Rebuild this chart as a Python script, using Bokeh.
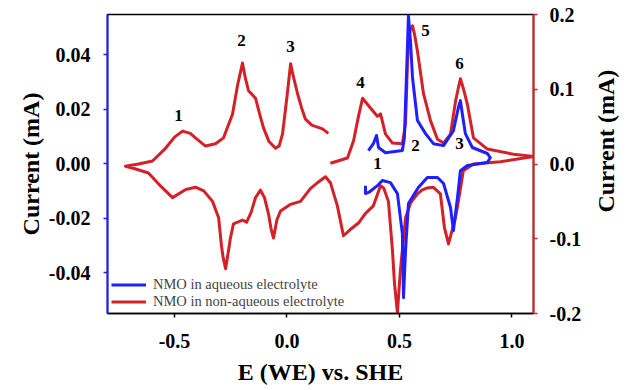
import math
from bokeh.plotting import figure
from bokeh.layouts import row
from bokeh.models import Range1d, LinearAxis, FixedTicker, NumeralTickFormatter, Legend, LegendItem, Label
from bokeh.embed import file_html
from bokeh.resources import INLINE

# Non-aqueous electrolyte (red, right axis, mA)
red_e = [0.193, 0.269, 0.296, 0.318, 0.336, 0.352, 0.371, 0.402, 0.416, 0.438, 0.469, 0.513, 0.527, 0.536,
         0.546, 0.558, 0.568, 0.580, 0.607, 0.638, 0.669, 0.696, 0.727, 0.750, 0.762, 0.771, 0.785, 0.802,
         0.829, 0.891, 1.007, 1.100,
         0.949, 0.829, 0.784, 0.762, 0.749, 0.718, 0.700, 0.682, 0.650, 0.624, 0.600, 0.580, 0.550, 0.527,
         0.504, 0.491, 0.478, 0.469, 0.451, 0.430, 0.416, 0.384, 0.349, 0.318, 0.280, 0.251, 0.224, 0.193,
         0.171, 0.140, 0.104, 0.060, 0.016, -0.029, -0.045, -0.060, -0.072, -0.082, -0.100, -0.118, -0.140,
         -0.160, -0.180, -0.198, -0.238, -0.252, -0.260, -0.273, -0.284, -0.291, -0.304, -0.331, -0.370,
         -0.407, -0.450, -0.509, -0.560, -0.616, -0.680, -0.718,
         -0.660, -0.598, -0.540, -0.500, -0.464, -0.430, -0.407, -0.362, -0.318, -0.282, -0.242, -0.220,
         -0.198, -0.185, -0.171, -0.155, -0.140, -0.120, -0.104, -0.080, -0.051, -0.035, -0.020, 0.000,
         0.016, 0.030, 0.047, 0.065, 0.082, 0.110, 0.158, 0.184]
red_i = [0.001, 0.008, 0.031, 0.064, 0.088, 0.082, 0.075, 0.064, 0.067, 0.040, 0.028, 0.027, 0.054, 0.138,
         0.178, 0.185, 0.172, 0.151, 0.094, 0.058, 0.033, 0.028, 0.040, 0.085, 0.102, 0.114, 0.100, 0.080,
         0.035, 0.020, 0.013, 0.010,
         0.003, 0.000, -0.009, -0.050, -0.072, -0.107, -0.085, -0.040, -0.031, -0.032, -0.035, -0.040, -0.052, -0.072,
         -0.143, -0.199, -0.160, -0.116, -0.050, -0.032, -0.029, -0.056, -0.066, -0.079, -0.088, -0.096, -0.056, -0.025,
         -0.017, -0.024, -0.033, -0.050, -0.054, -0.063, -0.075, -0.099, -0.085, -0.067, -0.045, -0.035, -0.045,
         -0.065, -0.078, -0.075, -0.080, -0.100, -0.116, -0.140, -0.125, -0.110, -0.072, -0.050, -0.036,
         -0.031, -0.034, -0.045, -0.030, -0.012, -0.006, -0.003,
         0.000, 0.004, 0.021, 0.036, 0.044, 0.041, 0.035, 0.024, 0.027, 0.035, 0.067, 0.105,
         0.135, 0.115, 0.098, 0.093, 0.088, 0.065, 0.048, 0.030, 0.021, 0.024, 0.040, 0.090,
         0.134, 0.115, 0.094, 0.075, 0.060, 0.052, 0.047, 0.041]

# Aqueous electrolyte (blue, left axis, mA)
blue_e = [0.362, 0.384, 0.398, 0.407, 0.438, 0.513, 0.522, 0.536, 0.540, 0.549, 0.558, 0.580, 0.616, 0.651,
          0.696, 0.740, 0.762, 0.771, 0.780, 0.793, 0.824, 0.891, 0.904,
          0.891, 0.802, 0.771, 0.758, 0.740, 0.727, 0.696, 0.669, 0.624, 0.584, 0.540, 0.527, 0.518, 0.513,
          0.491, 0.460, 0.424, 0.402, 0.380, 0.365, 0.349, 0.349]
blue_i = [0.0048, 0.0073, 0.0103, 0.0059, 0.0040, 0.0048, 0.0095, 0.0440, 0.0543, 0.0450, 0.0316, 0.0158,
          0.0110, 0.0073, 0.0066, 0.0121, 0.0206, 0.0231, 0.0180, 0.0110, 0.0059, 0.0037, 0.0022,
          0.0004, -0.0007, -0.0026, -0.0125, -0.0246, -0.0161, -0.0073, -0.0051, -0.0051, -0.0088, -0.0147,
          -0.0319, -0.0492, -0.0257, -0.0110, -0.0070, -0.0062, -0.0081, -0.0095, -0.0105, -0.0110, -0.0081]

# Peak labels (positions in left-axis units)
peak_text = ["1", "2", "3", "4", "5", "6", "1", "2", "3"]
peak_e = [-0.482, -0.202, 0.016, 0.327, 0.616, 0.767, 0.402, 0.571, 0.767]
peak_i = [0.0176, 0.0451, 0.0429, 0.0297, 0.0488, 0.0367, 0.0000, 0.0066, 0.0073]

x_ticks = [-0.5, 0.0, 0.5, 1.0]
left_ticks = [-0.04, -0.02, 0.0, 0.02, 0.04]
right_ticks = [-0.2, -0.1, 0.0, 0.1, 0.2]
y_title = "Current (mA)"

RED = "#d42027"
BLUE = "#1f1fff"
FONT = "Liberation Serif"

p = figure(frame_width=426, frame_height=299, output_backend="svg", toolbar_location=None,
           x_range=Range1d(-0.798, 1.096), y_range=Range1d(-0.0550, 0.0547),
           min_border_left=107, min_border_right=57, min_border_top=14, min_border_bottom=70)
p.extra_y_ranges = {"red": Range1d(-0.2, 0.2)}
p.xgrid.visible = False
p.ygrid.visible = False
p.outline_line_color = "black"
p.outline_line_width = 1.5

rl = p.line(red_e, red_i, y_range_name="red", line_color=RED, line_width=3, line_join="round")
bl = p.line(blue_e, blue_i, line_color=BLUE, line_width=3, line_join="round")

def style(ax, color, ticks, fmt, label):
    ax.ticker = FixedTicker(ticks=ticks)
    ax.formatter = NumeralTickFormatter(format=fmt)
    ax.axis_line_color = color
    ax.axis_line_width = 2
    ax.major_tick_line_color = color
    ax.major_tick_line_width = 1.5
    ax.major_tick_in = 0
    ax.major_tick_out = 4
    ax.minor_tick_line_color = None
    ax.major_label_text_font = FONT
    ax.major_label_text_font_style = "bold"
    ax.major_label_text_font_size = "20px"
    ax.major_label_text_color = "black"
    if label:
        ax.axis_label = label
        ax.axis_label_text_font = FONT
        ax.axis_label_text_font_style = "bold"
        ax.axis_label_text_font_size = "24px"
        ax.axis_label_text_color = "black"

style(p.xaxis[0], "black", x_ticks, "0.0", "E (WE) vs. SHE")
p.xaxis[0].axis_line_width = 1.5
p.xaxis[0].major_label_standoff = 16
p.xaxis[0].axis_label_standoff = 8
style(p.yaxis[0], BLUE, left_ticks, "0.00", y_title)
p.yaxis[0].major_label_standoff = 13
p.yaxis[0].axis_label_standoff = 2

ra = LinearAxis(y_range_name="red")
style(ra, RED, right_ticks, "0.0", None)
ra.major_label_standoff = 12
p.add_layout(ra, "right")

for t, xe, yi in zip(peak_text, peak_e, peak_i):
    p.add_layout(Label(x=xe, y=yi, text=t, text_font=FONT, text_font_style="bold",
                       text_font_size="17px", text_align="center", text_baseline="middle",
                       text_color="black"))

legend = Legend(items=[LegendItem(label="NMO in aqueous electrolyte", renderers=[bl]),
                       LegendItem(label="NMO in non-aqueous electrolyte", renderers=[rl])],
                location=(4, 3), margin=0, padding=4, spacing=0,
                glyph_width=35, glyph_height=15, label_height=15, label_standoff=7,
                label_text_font=FONT, label_text_font_size="14.5px",
                border_line_color=None, background_fill_alpha=0)
p.add_layout(legend, "center")

# narrow companion figure holding the right-hand axis title (reads bottom to top)
pt = figure(width=30, height=390, output_backend="svg", toolbar_location=None,
            x_range=Range1d(0, 1), y_range=Range1d(390, 0),
            x_axis_type=None, y_axis_type=None,
            min_border_left=0, min_border_right=0, min_border_top=0, min_border_bottom=0)
pt.outline_line_color = None
pt.add_layout(Label(x=0.5, y=14 + 299 / 2, text=y_title, angle=math.pi / 2,
                    text_font=FONT, text_font_style="bold", text_font_size="24px",
                    text_align="center", text_baseline="middle", text_color="black"))

layout = row(p, pt, spacing=0)
open("out.html", "w").write(file_html(layout, INLINE))
